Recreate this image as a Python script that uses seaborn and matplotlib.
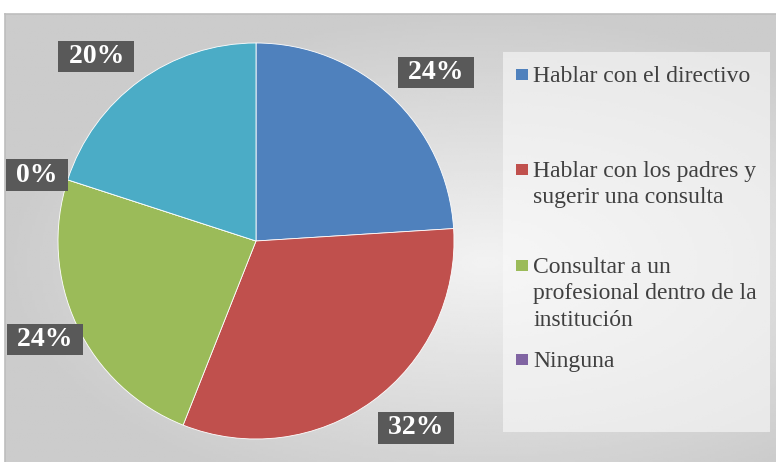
import numpy as np
import matplotlib.pyplot as plt
import seaborn as sns
from matplotlib.patches import Rectangle

# Data
categories = ['Hablar con el directivo',
              'Hablar con los padres y\nsugerir una consulta',
              'Consultar a un\nprofesional dentro de la\ninstitución',
              'Ninguna',
              '']
shares = [24, 32, 24, 0, 20]
legend_labels = categories[:4]

sns.set_theme(style='white')
plt.rcParams['font.family'] = ['Liberation Serif', 'DejaVu Serif']

palette = sns.color_palette(['#4F81BD', '#C0504D', '#9BBB59', '#8064A2', '#4BACC6'])

W, H = 776, 462
fig = plt.figure(figsize=(W / 100, H / 100), dpi=100)
fig.patch.set_facecolor('white')

# textured gray frame -> approximated with a radial gradient (runs off right/bottom)
bg = fig.add_axes([5 / W, 1 - 466 / H, 776 / W, 452 / H])
yy, xx = np.mgrid[0:1:200j, 0:1:300j]
r = np.sqrt(((xx - 0.62) / 0.9) ** 2 + ((yy - 0.55) / 0.8) ** 2)
grad = np.clip(0.95 - 0.22 * r, 0.80, 0.95)
bg.imshow(grad, cmap='gray', vmin=0, vmax=1, aspect='auto', extent=[0, 1, 0, 1])
bg.set_xticks([])
bg.set_yticks([])
for s in bg.spines.values():
    s.set_color('#bdbdbd')
    s.set_linewidth(1.2)

# legend panel
fig.patches.append(Rectangle((503 / W, 1 - 432 / H), 267 / W, 380 / H,
                             transform=fig.transFigure, facecolor='#fafafa',
                             edgecolor='none', alpha=0.6, zorder=1))

# pie
cx, cy, rad = 256, 241, 198
ax = fig.add_axes([(cx - rad) / W, 1 - (cy + rad) / H, 2 * rad / W, 2 * rad / H])
wedges, texts, autotexts = ax.pie(shares, colors=palette, startangle=90, counterclock=False,
                                  autopct=' %1.0f%% ', pctdistance=1.22,
                                  wedgeprops=dict(edgecolor='white', linewidth=0.6),
                                  textprops=dict(color='white', fontsize=20, fontweight='bold'))
# label placement (in radii from the centre), as in the original
label_xy = [(0.907, 0.851), (0.806, -0.944), (-1.066, -0.497), (-1.106, 0.333), (-0.806, 0.932)]
for t, xy in zip(autotexts, label_xy):
    t.set_position(xy)
    t.set_bbox(dict(facecolor='#595959', edgecolor='none', boxstyle='square,pad=0.12'))
ax.set_xlim(-1, 1)
ax.set_ylim(-1, 1)
ax.set_aspect('auto')
ax.axis('off')

# legend entries (Excel-style spread), first-line baselines in px
entry_base = [82, 177, 273, 367]
line_step = 26.5
for lab, col, yb in zip(legend_labels, palette, entry_base):
    fig.patches.append(Rectangle((516 / W, 1 - (yb - 2) / H), 11.5 / W, 11.5 / H,
                                 transform=fig.transFigure, facecolor=col,
                                 edgecolor='none', zorder=3))
    for i, line in enumerate(lab.split('\n')):
        fig.text(533 / W, 1 - (yb + i * line_step) / H, line, fontsize=17, color='#404040',
                 va='baseline', ha='left', zorder=3)

fig.savefig('out.png', dpi=100)
